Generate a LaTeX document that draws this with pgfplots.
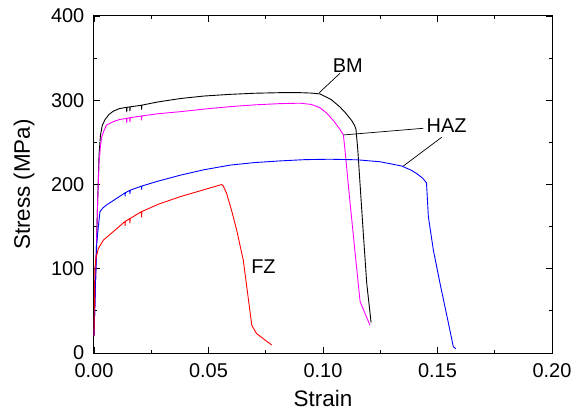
\documentclass[border=0pt]{standalone}
\usepackage{fontspec}
\setmainfont{Liberation Sans}
\usepackage{pgfplots}
\pgfplotsset{compat=1.18}
\usetikzlibrary{calc}
\definecolor{mag}{RGB}{255,0,255}
\begin{document}
\begin{tikzpicture}
\begin{axis}[
  scale only axis, width=458bp, height=337bp,
  xmin=0, xmax=0.20, ymin=0, ymax=400,
  xtick={0,0.05,0.10,0.15,0.20}, ytick={0,100,200,300,400},
  minor x tick num=1, minor y tick num=1,
  tick align=inside,
  major tick length=6bp, minor tick length=3.5bp,
  axis line style={line width=1bp}, every tick/.style={line width=0.9bp, black},
  /pgf/number format/assume math mode=true,
  xticklabel style={/pgf/number format/fixed, /pgf/number format/fixed zerofill, /pgf/number format/precision=2, yshift=-8bp, inner sep=2bp},
  yticklabel style={xshift=-8.5bp, inner sep=1bp},
  tick label style={font=\fontsize{20}{24}\selectfont},
  label style={font=\fontsize{22.5}{26}\selectfont},
  xlabel={Strain}, ylabel={Stress (MPa)},
  xlabel style={at={(axis description cs:0.5,-0.1335)}, anchor=center},
  ylabel style={at={(axis description cs:-0.1528,0.5)}, anchor=center},
  scaled x ticks=false,
  clip=false,
]
\path (rel axis cs:0,0) coordinate (sw);
\path (rel axis cs:1,1) coordinate (ne);
% BM
\addplot[black, line width=0.9bp] coordinates {
(0,20) (0.0008,100) (0.0016,180) (0.0022,235) (0.0028,258) (0.0036,270) (0.0048,277) (0.0065,283) (0.0084,287) (0.011,290)
(0.0142,291.6) (0.0143,286) (0.0144,291.7) (0.0156,292.1) (0.0157,287) (0.0158,292.2) (0.018,293) (0.0207,294) (0.0208,289) (0.0209,294.2)
(0.028,298) (0.0376,302) (0.048,305) (0.0594,307) (0.07,308.3) (0.0812,309) (0.09,309) (0.095,308.5) (0.0987,307.5) (0.1035,301) (0.1074,292)
(0.11,284.5) (0.1125,276) (0.1138,270) (0.1144,265.5) (0.1152,241) (0.1176,142) (0.1191,82.7) (0.121,36)
};
% HAZ magenta
\addplot[mag, line width=0.9bp] coordinates {
(0,20) (0.0008,100) (0.0016,180) (0.0022,225) (0.0028,245) (0.0034,256.8) (0.0045,265) (0.0055,270.6) (0.0084,274.6) (0.011,277)
(0.0142,278.5) (0.0143,273) (0.0144,278.6) (0.0156,279.2) (0.0157,274) (0.0158,279.3) (0.0207,281.3) (0.0208,276) (0.0209,281.4)
(0.028,284) (0.0376,286.4) (0.048,289.5) (0.0594,292.4) (0.07,294.5) (0.0812,296) (0.09,296.5) (0.095,295) (0.0987,291) (0.1015,285)
(0.1045,276) (0.107,267) (0.1089,259) (0.1096,241) (0.1117,181.6) (0.1139,122) (0.1162,61) (0.1205,33)
};
% HAZ blue
\addplot[blue, line width=0.9bp] coordinates {
(0,20) (0.0006,80) (0.0012,130) (0.0019,150) (0.0026,167.7) (0.0038,172) (0.0055,175.7) (0.009,182)
(0.0135,190) (0.0136,186) (0.0137,190.2) (0.0156,193) (0.0157,189) (0.0158,193.2) (0.0207,198) (0.0208,194) (0.0209,198.2)
(0.028,204) (0.0376,211) (0.048,217.5) (0.0594,223) (0.07,226) (0.0812,228) (0.092,229.5) (0.103,230) (0.115,229.3) (0.1249,227)
(0.1343,222) (0.1385,217) (0.1409,213) (0.1435,207.5) (0.1452,202) (0.146,162) (0.1482,122) (0.1511,82.7) (0.1548,35) (0.1569,7.5) (0.158,5)
};
% FZ red
\addplot[red, line width=0.9bp] coordinates {
(0,20) (0.0002,70) (0.0004,100) (0.0008,112) (0.0019,124) (0.0041,134) (0.0084,144)
(0.0135,156) (0.0136,151) (0.0137,156.3) (0.0156,159.5) (0.0157,154) (0.0158,159.7) (0.0207,167.7) (0.0208,161) (0.0209,167.9)
(0.028,176.5) (0.0376,185.5) (0.047,193) (0.0558,200) (0.0565,198) (0.0579,189.5) (0.06,170) (0.0623,146) (0.0652,110)
(0.0689,33) (0.071,23) (0.0776,9.5)
};
% labels
\node[font=\fontsize{20}{24}\selectfont] at (axis cs:0.1108,341) {BM};
\draw[black, line width=0.7bp] (axis cs:0.1074,332) -- (axis cs:0.0984,309);
\node[font=\fontsize{20}{24}\selectfont] at (axis cs:0.1540,269.4) {HAZ};
\draw[black, line width=0.7bp] (axis cs:0.1438,266.7) -- (axis cs:0.1089,258.8);
\draw[black, line width=0.7bp] (axis cs:0.1518,256) -- (axis cs:0.1351,222);
\node[font=\fontsize{20}{24}\selectfont] at (axis cs:0.0740,102.4) {FZ};
\end{axis}
\pgfresetboundingbox
\path[use as bounding box] ($(sw)+(-94bp,-62bp)$) rectangle ($(ne)+(30bp,16bp)$);
\end{tikzpicture}
\end{document}
